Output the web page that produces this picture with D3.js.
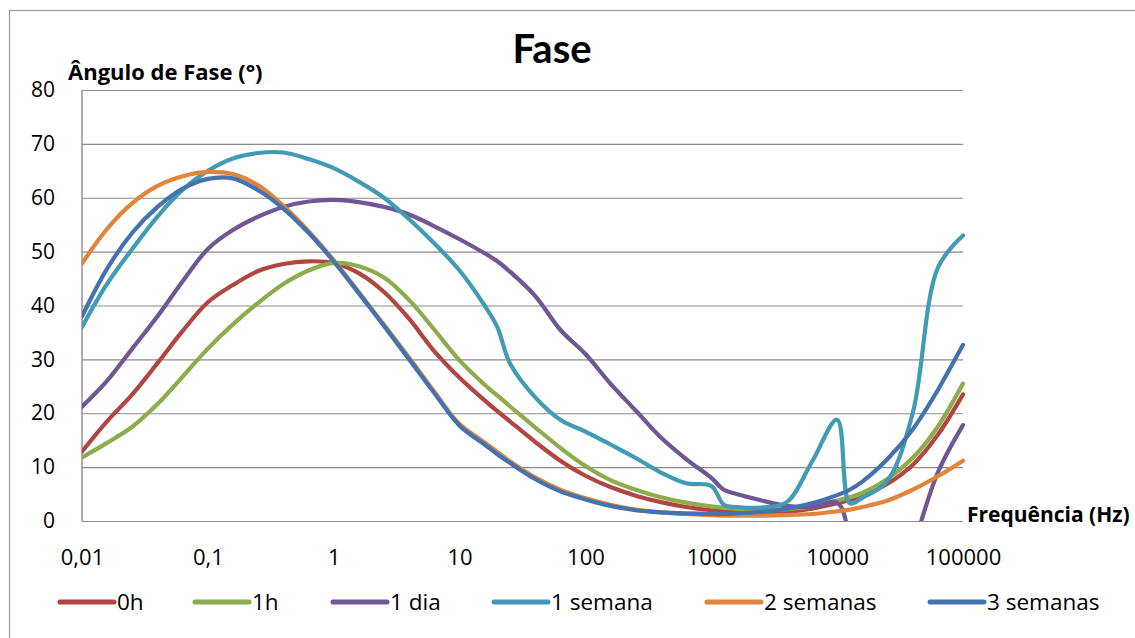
<!DOCTYPE html>
<html>
<head>
<meta charset="utf-8">
<script src="https://cdn.jsdelivr.net/npm/d3@7.9.0/dist/d3.min.js"></script>
<style>
  body { margin: 0; background: #fff; }
  svg { display: block; font-family: "Open Sans", sans-serif; }
</style>
</head>
<body>
<svg id="chart" width="1135" height="638"></svg>
<script>
// ---- data ----
const freqHz = [
  0.01, 0.0158, 0.0251, 0.0398, 0.0631, 0.1, 0.158, 0.251, 0.398, 0.631,
  1, 1.58, 2.51, 3.98, 6.31, 10, 15.8, 19.95, 25.1, 39.8, 63.1,
  100, 158, 251, 398, 631, 1000, 1259, 1585, 2512, 3981, 6310,
  10000, 12589, 15849, 25119, 39811, 63096, 100000
];

const fase0h = [
  12.9, 18.5, 23.5, 29.3, 35.3, 40.6, 43.8, 46.4, 47.7, 48.2,
  47.9, 46, 42.5, 37.5, 31.5, 26.6, 22.4, 20.4, 18.5, 14.7, 11.2,
  8.4, 6.3, 4.7, 3.5, 2.6, 2.0, 1.8, 1.6, 1.4, 1.7, 2.3,
  3.3, 3.9, 4.6, 6.9, 10.4, 16, 23.5
];
const fase1h = [
  11.8, 14.5, 17.5, 21.7, 26.8, 32, 36.5, 40.5, 44, 46.5,
  47.9, 47.3, 45.2, 41, 35.5, 29.8, 25.3, 23.3, 21.3, 17.4, 13.6,
  10.2, 7.6, 5.8, 4.4, 3.4, 2.7, 2.5, 2.3, 2.0, 2.2, 2.7,
  3.8, 4.4, 5.2, 7.8, 11.7, 17.5, 25.5
];
const fase1dia = [
  21.2, 26, 32, 38, 44.5, 50.5, 54, 56.5, 58.3, 59.3,
  59.6, 59.2, 58.3, 56.9, 54.7, 52.3, 49.7, 48.2, 46.3, 41.8, 35.5,
  31, 25.5, 20.5, 15.5, 11.5, 8, 5.8, 5, 3.8, 2.8, 2.6,
  3.4, -3, -14, -18, -5, 9, 17.8
];
const fase1semana = [
  36, 44, 50.5, 56.5, 61.5, 65, 67.3, 68.3, 68.4, 67.2,
  65.5, 63, 60, 56, 51.5, 46.5, 40, 36, 29.3, 23, 18.8,
  16.6, 14.2, 11.7, 9, 7, 6.5, 3, 2.6, 2.5, 3.5, 11,
  18.8, 3.3, 4.3, 7.5, 20, 47, 53
];
const fase2semanas = [
  47.8, 54.2, 59, 62.2, 64, 64.8, 64.4, 62.3, 58.5, 53.8,
  48.4, 42.5, 36.4, 30.3, 24, 18, 14.6, 12.8, 11.1, 8.1, 5.8,
  4.2, 3.0, 2.1, 1.6, 1.3, 1.1, 1.0, 1.0, 1.0, 1.1, 1.3,
  1.8, 2.1, 2.6, 3.8, 5.8, 8.3, 11.2
];
const fase3semanas = [
  38, 46.8, 53.5, 58.3, 61.7, 63.5, 63.6, 61.4, 58, 53.5,
  48.2, 42.3, 36.2, 30, 23.7, 17.7, 14.2, 12.4, 10.8, 7.8, 5.5,
  4, 2.8, 2.0, 1.6, 1.4, 1.3, 1.3, 1.4, 1.7, 2.3, 3.3,
  4.8, 5.8, 7.3, 11.5, 17, 24.3, 32.7
];

const seriesNames = ["0h", "1h", "1 dia", "1 semana", "2 semanas", "3 semanas"];
const seriesValues = [fase0h, fase1h, fase1dia, fase1semana, fase2semanas, fase3semanas];
const seriesColors = ["#B14541", "#8DAD4C", "#6F5695", "#419BB4", "#E2843A", "#4472AE"];

const xTickValues = [0.01, 0.1, 1, 10, 100, 1000, 10000, 100000];
const xTickLabels = ["0,01", "0,1", "1", "10", "100", "1000", "10000", "100000"];
const yTickValues = [0, 10, 20, 30, 40, 50, 60, 70, 80];

// ---- layout ----
const plot = { left: 82, right: 963, top: 90, bottom: 521 };
const legendX = [60, 195, 333, 494, 707, 930]; // start of each legend line
const legendY = 602;

const svg = d3.select("#chart");

// outer chart border
svg.append("rect")
  .attr("x", 9.5).attr("y", 10.5)
  .attr("width", 1140).attr("height", 640)
  .attr("fill", "#fff")
  .attr("stroke", "#9a9a9a")
  .attr("stroke-width", 1.2);

const x = d3.scaleLog().domain([0.01, 100000]).range([plot.left, plot.right]);
const y = d3.scaleLinear().domain([0, 80]).range([plot.bottom, plot.top]);

// horizontal gridlines + y labels
const yAxis = d3.axisLeft(y)
  .tickValues(yTickValues)
  .tickSize(-(plot.right - plot.left))
  .tickPadding(27)
  .tickFormat(d3.format("d"));

const gy = svg.append("g")
  .attr("transform", `translate(${plot.left},0)`)
  .call(yAxis);
gy.select(".domain").remove();
gy.selectAll(".tick line").attr("stroke", "#8c8c8c").attr("stroke-width", 1.2);
gy.selectAll(".tick text")
  .attr("fill", "#000")
  .attr("font-size", 21)
  .attr("font-family", "Open Sans");

// x labels (no tick marks, just text under the zero line)
const xAxis = d3.axisBottom(x)
  .tickValues(xTickValues)
  .tickSize(0)
  .tickPadding(28)
  .tickFormat((d, i) => xTickLabels[i]);

const gx = svg.append("g")
  .attr("transform", `translate(0,${plot.bottom})`)
  .call(xAxis);
gx.select(".domain").remove();
gx.selectAll(".tick text")
  .attr("fill", "#000")
  .attr("font-size", 22)
  .attr("font-family", "Open Sans");

// left axis line
svg.append("line")
  .attr("x1", plot.left).attr("x2", plot.left)
  .attr("y1", plot.top).attr("y2", plot.bottom)
  .attr("stroke", "#8c8c8c").attr("stroke-width", 1.4);

// clip so the dip of "1 dia" below zero is cut at the axis
svg.append("clipPath").attr("id", "plot-clip")
  .append("rect")
  .attr("x", plot.left).attr("y", plot.top - 10)
  .attr("width", plot.right - plot.left + 4)
  .attr("height", plot.bottom - plot.top + 10);

// smoothed lines, like the spreadsheet's "smooth line" option
const line = d3.line()
  .x((d) => x(d[0]))
  .y((d) => y(d[1]))
  .curve(d3.curveCatmullRom.alpha(0.5));

const lines = svg.append("g").attr("clip-path", "url(#plot-clip)");
seriesValues.forEach((vals, i) => {
  lines.append("path")
    .datum(freqHz.map((f, j) => [f, vals[j]]))
    .attr("fill", "none")
    .attr("stroke", seriesColors[i])
    .attr("stroke-width", 4.2)
    .attr("stroke-linejoin", "round")
    .attr("stroke-linecap", "round")
    .attr("d", line);
});

// titles
svg.append("text")
  .attr("x", 552).attr("y", 63)
  .attr("text-anchor", "middle")
  .attr("font-family", "Lato")
  .attr("font-weight", "bold")
  .attr("font-size", 40)
  .text("Fase");

svg.append("text")
  .attr("x", 68).attr("y", 80)
  .attr("font-weight", "bold")
  .attr("font-size", 22)
  .text("Ângulo de Fase (°)");

svg.append("text")
  .attr("x", 967).attr("y", 522)
  .attr("font-weight", "bold")
  .attr("font-size", 21)
  .text("Frequência (Hz)");

// legend
const legend = svg.append("g");
seriesNames.forEach((name, i) => {
  legend.append("line")
    .attr("x1", legendX[i]).attr("x2", legendX[i] + 54)
    .attr("y1", legendY).attr("y2", legendY)
    .attr("stroke", seriesColors[i])
    .attr("stroke-width", 5)
    .attr("stroke-linecap", "round");
  legend.append("text")
    .attr("x", legendX[i] + 57)
    .attr("y", legendY + 8)
    .attr("font-size", 22.5)
    .text(name);
});
</script>
</body>
</html>
